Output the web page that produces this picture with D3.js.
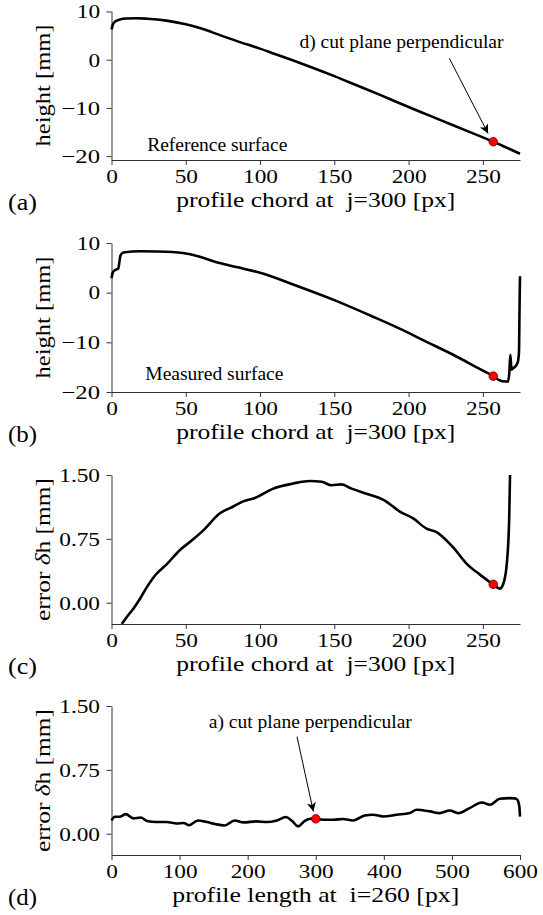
<!DOCTYPE html>
<html>
<head>
<meta charset="utf-8">
<script src="https://cdn.jsdelivr.net/npm/d3@7"></script>
<style>
  body { margin: 0; background: #fff; }
  svg text { font-family: "Liberation Serif", "Times New Roman", serif; fill: #000; }
</style>
</head>
<body>
<svg id="chart" width="543" height="915"></svg>
<script>
// (a) reference surface
const refChord  = [0, 0.3, 0.8, 2.4, 5.7, 10, 17, 24, 37, 50, 60, 73, 85, 100, 110, 121, 135, 150, 165, 180, 200, 215, 230, 250, 257, 265, 275];
const refHeight = [6.3, 6.6, 7.2, 7.9, 8.35, 8.55, 8.6, 8.5, 8.1, 7.35, 6.5, 5.1, 3.8, 2.3, 1.2, 0, -1.6, -3.4, -5.3, -7.2, -9.8, -11.7, -13.6, -16.1, -17.0, -18.1, -19.5];

// (b) measured surface
const measChord  = [0, 0.8, 1.7, 3.5, 4.6, 5.2, 5.9, 6.9, 9, 19, 30, 48, 60, 72, 85, 100, 125, 150, 175, 200, 208, 230, 250, 257, 261, 265, 267, 267.8, 268.5, 269.3, 270.5, 272, 273.5, 274.3, 274.7, 275];
const measHeight = [2.9, 4.0, 4.4, 4.7, 4.9, 5.9, 7.3, 7.9, 8.15, 8.35, 8.3, 8.0, 7.2, 6.0, 5.1, 4.0, 1.35, -1.5, -4.7, -8.1, -9.3, -12.5, -15.7, -16.8, -17.6, -17.9, -17.9, -16.1, -12.5, -15.5, -15.2, -14.8, -14.0, -12.0, -3.0, 3.3];

// (c) error along the chord
const errChord = [6.9, 10.2, 14.7, 19.2, 23.7, 29.3, 37.1, 46.1, 54, 61.8, 73, 82, 88.7, 96.6, 108.9, 122.3, 133.6, 141.5, 148.2, 154.9, 161.6, 171.7, 184, 194.1, 203.1, 212.1, 218.8, 230, 239, 248, 256.9, 261.4, 263.7, 265.9, 267.7, 268.3];
const errValue = [-0.25, -0.17, -0.07, 0.047, 0.18, 0.32, 0.45, 0.62, 0.73, 0.85, 1.05, 1.13, 1.19, 1.23, 1.34, 1.40, 1.43, 1.42, 1.38, 1.39, 1.34, 1.28, 1.20, 1.07, 0.99, 0.87, 0.83, 0.65, 0.46, 0.33, 0.216, 0.165, 0.22, 0.42, 0.97, 1.5];

// (d) error along the profile length
const lenPos   = [0, 5, 12.5, 21, 32, 43, 52, 66, 81, 96, 106, 114, 127, 140, 152, 166, 181, 194, 213, 228, 243, 256, 265, 274, 284, 292, 300, 326, 340, 355, 372, 384, 399, 419, 438, 448, 468, 482, 497, 509, 526, 544, 556, 570, 585, 592, 596, 599, 600];
const lenError = [0.156, 0.2, 0.2, 0.23, 0.18, 0.19, 0.15, 0.137, 0.137, 0.12, 0.125, 0.1, 0.156, 0.137, 0.114, 0.097, 0.156, 0.133, 0.145, 0.137, 0.156, 0.196, 0.152, 0.086, 0.152, 0.176, 0.17, 0.164, 0.172, 0.156, 0.215, 0.223, 0.203, 0.223, 0.242, 0.281, 0.262, 0.242, 0.273, 0.242, 0.301, 0.367, 0.34, 0.41, 0.418, 0.415, 0.4, 0.32, 0.2];

// red markers, one per panel
const markPos   = [257, 257, 257, 300];
const markValue = [-17.0, -16.8, 0.216, 0.175];

const chordTicks  = [0, 50, 100, 150, 200, 250];
const lengthTicks = [0, 100, 200, 300, 400, 500, 600];
const heightTicks = [-20, -10, 0, 10];
const errorTicks  = [0, 0.75, 1.5];
const panelNames  = ["(a)", "(b)", "(c)", "(d)"];

const svg = d3.select("#chart");
const left = 111.5, right = 520, plotH = 149;
const tops = [11, 243, 475, 706];

// the reference axis text is a wide slab serif: stretch the serif text to that width
const charW = { ".": 0.318, "\u2212": 0.838 };
const tickWidth = s => 18.3 * [...s].reduce((w, c) => w + (charW[c] || 0.636), 0);

svg.append("defs").append("marker")
    .attr("id", "head")
    .attr("viewBox", "0 0 10 10")
    .attr("refX", 10).attr("refY", 5)
    .attr("markerWidth", 13).attr("markerHeight", 9)
    .attr("markerUnits", "userSpaceOnUse")
    .attr("orient", "auto")
  .append("path")
    .attr("d", "M0,0 L10,5 L0,10 L2.5,5 z")
    .attr("fill", "#000");

// y labels are split in parts so that the greek delta can be italic
const panels = [
  { xs: refChord, ys: refHeight, xDomain: [0, 275], yDomain: [-20.8, 10.1], xTicks: chordTicks, yTicks: heightTicks,
    yFmt: d3.format("d"), ylabel: ["height [mm]"], ylen: 122, xlabel: "profile chord at  j=300 [px]", xlen: 279 },
  { xs: measChord, ys: measHeight, xDomain: [0, 275], yDomain: [-20, 10], xTicks: chordTicks, yTicks: heightTicks,
    yFmt: d3.format("d"), ylabel: ["height [mm]"], ylen: 122, xlabel: "profile chord at  j=300 [px]", xlen: 279 },
  { xs: errChord, ys: errValue, xDomain: [0, 275], yDomain: [-0.25, 1.5], xTicks: chordTicks, yTicks: errorTicks,
    yFmt: d3.format(".2f"), ylabel: ["error ", "δ", "h [mm]"], ylen: 143, xlabel: "profile chord at  j=300 [px]", xlen: 279 },
  { xs: lenPos, ys: lenError, xDomain: [0, 600], yDomain: [-0.25, 1.5], xTicks: lengthTicks, yTicks: errorTicks,
    yFmt: d3.format(".2f"), ylabel: ["error ", "δ", "h [mm]"], ylen: 143, xlabel: "profile length at  i=260 [px]", xlen: 287 }
];

const scales = [];

panels.forEach((p, i) => {
  const top = tops[i], bottom = top + plotH;
  const x = d3.scaleLinear().domain(p.xDomain).range([left, right]);
  const y = d3.scaleLinear().domain(p.yDomain).range([bottom, top]);
  scales.push({ x, y });

  const g = svg.append("g");

  g.append("clipPath").attr("id", "clip" + i)
    .append("rect").attr("x", left - 2).attr("y", top - 2).attr("width", right - left + 4).attr("height", plotH + 2);

  // axes
  const xFmt = d3.format("d");
  const xAxis = g.append("g")
      .attr("transform", `translate(0,${bottom})`)
      .call(d3.axisBottom(x).tickValues(p.xTicks).tickFormat(xFmt).tickSize(5).tickPadding(4.5).tickSizeOuter(0));
  const yAxis = g.append("g")
      .attr("transform", `translate(${left},0)`)
      .call(d3.axisLeft(y).tickValues(p.yTicks).tickFormat(p.yFmt).tickSize(5).tickPadding(6.5).tickSizeOuter(0));
  [[xAxis, xFmt], [yAxis, p.yFmt]].forEach(([a, fmt]) => {
    a.attr("font-family", null);
    a.select(".domain").attr("stroke", "#333").attr("stroke-width", 1);
    a.selectAll(".tick line").attr("stroke", "#333").attr("stroke-width", 1);
    a.selectAll(".tick text")
      .attr("font-size", 19.7).attr("fill", "#000")
      .attr("textLength", d => tickWidth(fmt(d)))
      .attr("lengthAdjust", "spacingAndGlyphs");
  });

  // axis labels
  g.append("text")
      .attr("x", (left + right) / 2).attr("y", bottom + 47)
      .attr("text-anchor", "middle").attr("font-size", 22)
      .attr("textLength", p.xlen).attr("lengthAdjust", "spacingAndGlyphs")
      .style("white-space", "pre")
      .text(p.xlabel);
  const yl = g.append("text")
      .attr("transform", `translate(50,${(top + bottom) / 2}) rotate(-90)`)
      .attr("text-anchor", "middle").attr("font-size", 22)
      .attr("textLength", p.ylen).attr("lengthAdjust", "spacingAndGlyphs")
      .style("white-space", "pre");
  p.ylabel.forEach(part => {
    yl.append("tspan")
      .attr("font-style", part === "δ" ? "italic" : null)
      .text(part);
  });
  g.append("text")
      .attr("x", 8).attr("y", bottom + 50)
      .attr("font-size", 23)
      .attr("textLength", 29).attr("lengthAdjust", "spacingAndGlyphs")
      .text(panelNames[i]);

  // curve
  const line = d3.line()
      .x((d, k) => x(p.xs[k]))
      .y(d => y(d))
      .curve(d3.curveMonotoneX);
  g.append("path")
      .attr("clip-path", `url(#clip${i})`)
      .attr("d", line(p.ys))
      .attr("fill", "none")
      .attr("stroke", "#000")
      .attr("stroke-width", 2.6)
      .attr("stroke-linejoin", "round");

  g.append("circle")
      .attr("cx", x(markPos[i])).attr("cy", y(markValue[i]))
      .attr("r", 4.3)
      .attr("fill", "#ff0000")
      .attr("stroke", "#600000").attr("stroke-width", 0.8);
});

// annotations
function note(i, tx, ty, text) {
  const s = scales[i];
  svg.append("text")
    .attr("x", s.x(tx)).attr("y", s.y(ty))
    .attr("font-size", 19.5)
    .text(text);
}
function arrow(i, x1, y1, x2, y2) {
  const s = scales[i];
  svg.append("line")
    .attr("x1", s.x(x1)).attr("y1", s.y(y1))
    .attr("x2", s.x(x2)).attr("y2", s.y(y2))
    .attr("stroke", "#000").attr("stroke-width", 1)
    .attr("marker-end", "url(#head)");
}

note(0, 24, -18.9, "Reference surface");
note(0, 126.5, 2.5, "d) cut plane perpendicular");
arrow(0, 227.4, 0.3, 253.5, -15.3);
note(1, 22.8, -17.6, "Measured surface");
note(3, 143, 1.24, "a) cut plane perpendicular");
arrow(3, 272.5, 1.14, 296.5, 0.26);
</script>
</body>
</html>
